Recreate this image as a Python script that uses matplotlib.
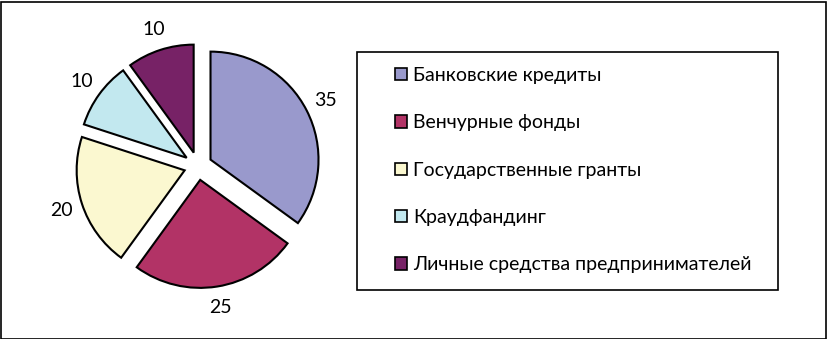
import matplotlib
matplotlib.use("Agg")
import matplotlib.pyplot as plt
from matplotlib.patches import Rectangle, Patch

plt.rcParams['font.family'] = ['Lato', 'DejaVu Sans']

categories = ["Банковские кредиты", "Венчурные фонды", "Государственные гранты",
              "Краудфандинг", "Личные средства предпринимателей"]
values = [35, 25, 20, 10, 10]
colors = ["#9999CC", "#B23366", "#FBF8D0", "#C2E8EF", "#772266"]

W, H = 827, 339
fig = plt.figure(figsize=(W / 100, H / 100), dpi=100)

R = 108.0
cx, cy = 198.0, 339 - 166.0
ax = fig.add_axes([(cx - 1.6 * R) / W, (cy - 1.5 * R) / H, 3.2 * R / W, 3.0 * R / H])

total = sum(values)
wedges, texts, autotexts = ax.pie(
    values, colors=colors, startangle=90, counterclock=False,
    explode=[0.13] * len(values), radius=1.0,
    autopct=lambda p: f"{round(p * total / 100):d}", pctdistance=1.2,
    wedgeprops=dict(edgecolor="black", linewidth=1.5),
    textprops=dict(fontsize=14, color="black"), frame=True)
ax.set_xlim(-1.6, 1.6)
ax.set_ylim(-1.5, 1.5)
ax.set_axis_off()

# legend box
fig.patches.append(Rectangle((357 / W, (339 - 290) / H), (778 - 357) / W, (290 - 52) / H,
                             transform=fig.transFigure, facecolor="none",
                             edgecolor="black", linewidth=1.2))
handles = [Patch(facecolor=c, edgecolor="black", linewidth=1.2) for c in colors]
leg = fig.legend(handles, categories, loc="upper left",
                 bbox_to_anchor=(395 / W, (339 - 67) / H),
                 frameon=False, fontsize=14, handlelength=0.6, handleheight=0.6,
                 handletextpad=0.35, labelspacing=1.56, borderpad=0, borderaxespad=0)

# outer border
fig.patches.append(Rectangle((0.5 / W, 0.5 / H), (W - 2) / W, (H - 2) / H,
                             transform=fig.transFigure, facecolor="none",
                             edgecolor="black", linewidth=1.2))

fig.savefig("out.png", dpi=100)
